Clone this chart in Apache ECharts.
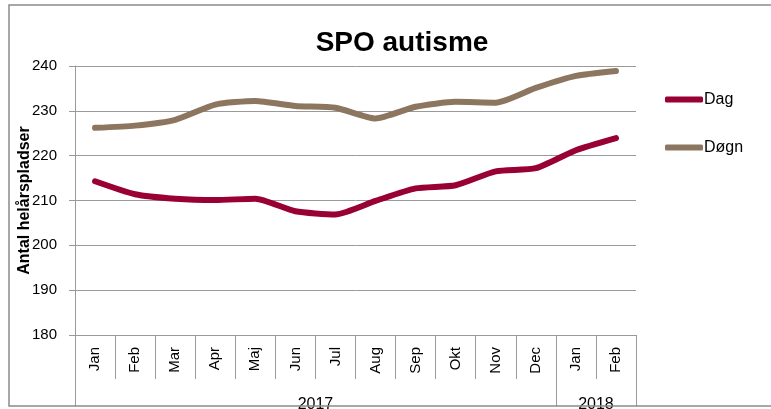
<!DOCTYPE html>
<html>
<head>
<meta charset="utf-8">
<script src="https://cdn.jsdelivr.net/npm/echarts@6/dist/echarts.min.js"></script>
<style>html,body{margin:0;padding:0;background:#fff}#c{width:771px;height:409px}</style>
</head>
<body>
<div id="c"></div>
<script>
var months = ['Jan','Feb','Mar','Apr','Maj','Jun','Jul','Aug','Sep','Okt','Nov','Dec','Jan','Feb'];
var yearLabels = ['2017','2018'];
var yearBoundaries = [0, 12, 14];
var yearCenters = [6, 13];
var dag = [214.3, 211.4, 210.4, 210.1, 210.4, 207.6, 206.9, 209.9, 212.7, 213.4, 216.5, 217.2, 221.2, 223.9];
var dogn = [226.2, 226.7, 228.0, 231.4, 232.2, 231.1, 230.7, 228.3, 230.9, 232.0, 231.8, 235.1, 237.8, 238.9];
var yTicks = {min: 180, max: 240, interval: 10};

var gray = '#9a9a9a';
var chart = echarts.init(document.getElementById('c'));
chart.setOption({
  animation: false,
  backgroundColor: '#fff',
  title: {
    text: 'SPO autisme', left: 397, top: 24, textAlign: 'center',
    textStyle: {fontFamily: 'Liberation Sans', fontSize: 28, fontWeight: 'bold', color: '#000'}
  },
  legend: {
    orient: 'vertical', left: 660, top: 86, itemGap: 31,
    itemWidth: 38, itemHeight: 6, icon: 'roundRect',
    textStyle: {fontFamily: 'Liberation Sans', fontSize: 16, color: '#000', lineHeight: 17, padding: [0,0,0,-4]},
    data: ['Dag', 'Døgn']
  },
  grid: {left: 75, right: 135, top: 66, bottom: 74, containLabel: false, outerBoundsMode: 'none'},
  xAxis: [{
    type: 'category', data: months, boundaryGap: true,
    axisLine: {lineStyle: {color: gray, width: 1}},
    axisTick: {show: true, interval: 0, length: 44, lineStyle: {color: gray}},
    axisLabel: {interval: 0, rotate: 90, margin: 12, fontFamily: 'Liberation Sans', fontSize: 15, color: '#000'}
  }, {
    type: 'value', position: 'bottom', min: 0, max: 14,
    axisLine: {show: false}, splitLine: {show: false},
    axisTick: {show: true, customValues: yearBoundaries, length: 71, lineStyle: {color: gray}},
    axisLabel: {show: true, customValues: yearCenters, margin: 62, fontFamily: 'Liberation Sans', fontSize: 16, color: '#000',
      formatter: function (v) { return yearLabels[yearCenters.indexOf(v)]; }}
  }],
  yAxis: {
    type: 'value', min: yTicks.min, max: yTicks.max, interval: yTicks.interval,
    name: 'Antal helårspladser', nameLocation: 'middle', nameRotate: 90, nameGap: 42, nameMoveOverlap: false,
    nameTextStyle: {fontFamily: 'Liberation Sans', fontSize: 16, fontWeight: 'bold', color: '#000'},
    axisLine: {show: true, lineStyle: {color: gray, width: 1}},
    axisTick: {show: true, length: 6, lineStyle: {color: gray}},
    axisLabel: {margin: 18, fontFamily: 'Liberation Sans', fontSize: 15, color: '#000'},
    splitLine: {lineStyle: {color: gray, width: 1}}
  },
  series: [{
    name: 'Dag', type: 'line', data: dag, xAxisIndex: 0, symbol: 'none', smooth: 0.2,
    lineStyle: {width: 6, color: '#990033', cap: 'round', join: 'round'}, itemStyle: {color: '#990033'}
  }, {
    name: 'Døgn', type: 'line', data: dogn, xAxisIndex: 0, symbol: 'none', smooth: 0.2,
    lineStyle: {width: 6, color: '#8c7660', cap: 'round', join: 'round'}, itemStyle: {color: '#8c7660'}
  }],
  graphic: [{
    type: 'rect', z: 100, silent: true,
    shape: {x: 9, y: 5, width: 800, height: 401},
    style: {fill: 'none', stroke: '#8a8a8a', lineWidth: 1.5}
  }]
});
</script>
</body>
</html>
